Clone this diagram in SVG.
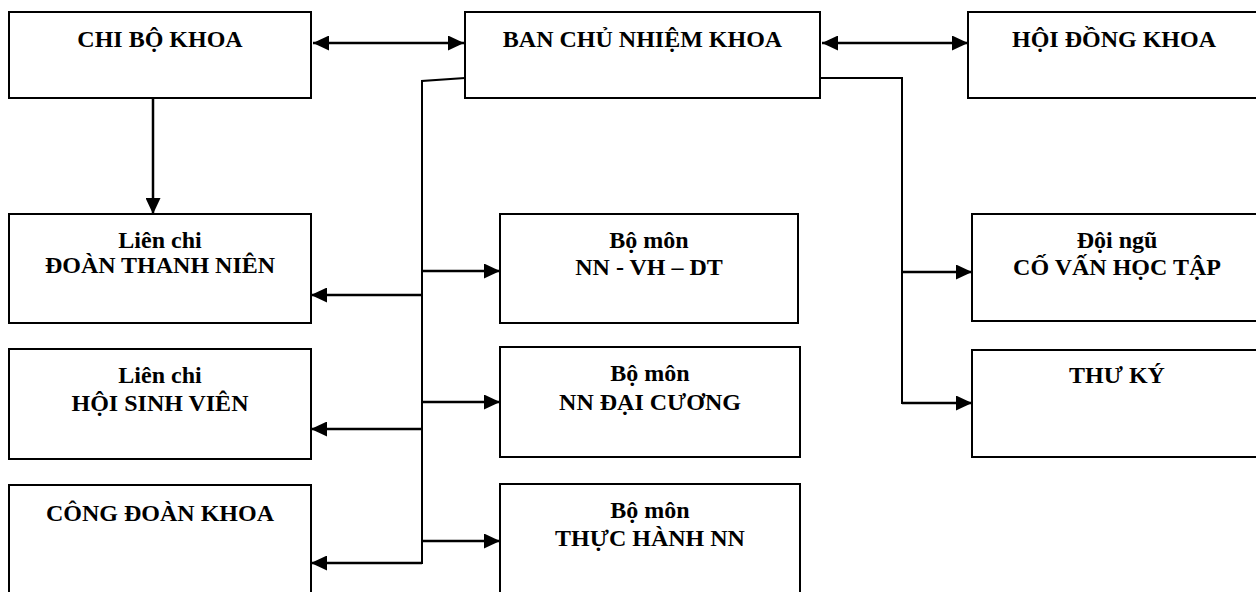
<svg xmlns="http://www.w3.org/2000/svg" width="1256" height="592" viewBox="0 0 1256 592">
<style>
.box{fill:#fff;stroke:#000;stroke-width:2}
text{font-family:'Liberation Serif','Times New Roman','DejaVu Serif',serif;font-weight:700;font-size:24px;fill:#000;text-anchor:middle}
.ln{fill:none;stroke:#000;stroke-width:2}
.ar{fill:none;stroke:#000;stroke-width:2.5}
</style>
<defs>
<marker id="ah" markerUnits="userSpaceOnUse" markerWidth="16" markerHeight="15" refX="16" refY="7.5" orient="auto-start-reverse" viewBox="0 0 16 15">
<path d="M0,0 L16,7.5 L0,15 Z" fill="#000"/>
</marker>
</defs>
<rect width="1256" height="592" fill="#fff"/>
<g id="connectors">
<line class="ar" x1="313" y1="43" x2="464" y2="43" marker-start="url(#ah)" marker-end="url(#ah)"/>
<line class="ar" x1="822" y1="43" x2="968" y2="43" marker-start="url(#ah)" marker-end="url(#ah)"/>
<line class="ar" x1="153" y1="98" x2="153" y2="214" marker-end="url(#ah)"/>
<path class="ln" d="M465,78 L422,81 L422,564"/>
<line class="ar" x1="422" y1="271" x2="500" y2="271" marker-end="url(#ah)"/>
<line class="ar" x1="422" y1="402" x2="500" y2="402" marker-end="url(#ah)"/>
<line class="ar" x1="422" y1="541" x2="500" y2="541" marker-end="url(#ah)"/>
<line class="ar" x1="422" y1="295" x2="311" y2="295" marker-end="url(#ah)"/>
<line class="ar" x1="422" y1="429" x2="311" y2="429" marker-end="url(#ah)"/>
<line class="ar" x1="422" y1="563" x2="311" y2="563" marker-end="url(#ah)"/>
<path class="ln" d="M820,78 L902,78 L902,404"/>
<line class="ar" x1="902" y1="272" x2="972" y2="272" marker-end="url(#ah)"/>
<line class="ar" x1="902" y1="403" x2="972" y2="403" marker-end="url(#ah)"/>
</g>
<g id="chi-bo-khoa">
<rect class="box" x="9" y="12" width="302" height="86"/>
<text x="160" y="47" font-family="Liberation Serif">CHI BỘ KHOA</text>
</g>
<g id="ban-chu-nhiem-khoa">
<rect class="box" x="465" y="12" width="355" height="86"/>
<text x="642.5" y="47" font-family="Liberation Serif">BAN CHỦ NHIỆM KHOA</text>
</g>
<g id="hoi-dong-khoa">
<rect class="box" x="968" y="12" width="300" height="86"/>
<text x="1114" y="47" font-family="Liberation Serif">HỘI ĐỒNG KHOA</text>
</g>
<g id="doan-thanh-nien">
<rect class="box" x="9" y="214" width="302" height="109"/>
<text x="160" y="248" font-family="Liberation Serif">Liên chi</text>
<text x="160" y="273" font-family="Liberation Serif">ĐOÀN THANH NIÊN</text>
</g>
<g id="hoi-sinh-vien">
<rect class="box" x="9" y="349" width="302" height="110"/>
<text x="160" y="383" font-family="Liberation Serif">Liên chi</text>
<text x="160" y="411" font-family="Liberation Serif">HỘI SINH VIÊN</text>
</g>
<g id="cong-doan-khoa">
<rect class="box" x="9" y="485" width="302" height="120"/>
<text x="160" y="521" font-family="Liberation Serif">CÔNG ĐOÀN KHOA</text>
</g>
<g id="bo-mon-nn-vh-dt">
<rect class="box" x="500" y="214" width="298" height="109"/>
<text x="649" y="248" font-family="Liberation Serif">Bộ môn</text>
<text x="649" y="275" font-family="Liberation Serif">NN - VH – DT</text>
</g>
<g id="bo-mon-nn-dai-cuong">
<rect class="box" x="500" y="347" width="300" height="110"/>
<text x="650" y="381" font-family="Liberation Serif">Bộ môn</text>
<text x="650" y="410" font-family="Liberation Serif">NN ĐẠI CƯƠNG</text>
</g>
<g id="bo-mon-thuc-hanh-nn">
<rect class="box" x="500" y="484" width="300" height="120"/>
<text x="650" y="518" font-family="Liberation Serif">Bộ môn</text>
<text x="650" y="546" font-family="Liberation Serif">THỰC HÀNH NN</text>
</g>
<g id="co-van-hoc-tap">
<rect class="box" x="972" y="214" width="296" height="107"/>
<text x="1117" y="248" font-family="Liberation Serif">Đội ngũ</text>
<text x="1117" y="275" font-family="Liberation Serif">CỐ VẤN HỌC TẬP</text>
</g>
<g id="thu-ky">
<rect class="box" x="972" y="350" width="296" height="107"/>
<text x="1117" y="383" font-family="Liberation Serif">THƯ KÝ</text>
</g>
</svg>
